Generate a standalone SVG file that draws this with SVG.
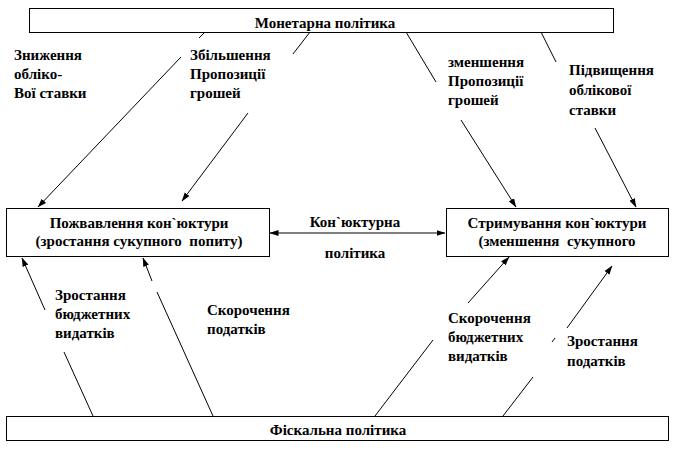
<svg xmlns="http://www.w3.org/2000/svg" width="673" height="456" viewBox="0 0 673 456">
<style>
text{font-family:"Liberation Serif","DejaVu Serif",serif;font-weight:bold;font-size:15px;fill:#000}
.c{text-anchor:middle}
.box{fill:#fff;stroke:#000;stroke-width:1}
.ln{fill:none;stroke:#000;stroke-width:1}
</style>
<defs>
<marker id="ah" markerWidth="9" markerHeight="7" refX="8.5" refY="3.5" orient="auto" markerUnits="userSpaceOnUse">
<path d="M0,0.5 L9,3.5 L0,6.5 Z" fill="#000"/>
</marker>
<marker id="as" markerWidth="9" markerHeight="7" refX="0.5" refY="3.5" orient="auto" markerUnits="userSpaceOnUse">
<path d="M9,0.5 L0,3.5 L9,6.5 Z" fill="#000"/>
</marker>
</defs>
<rect width="673" height="456" fill="#fff"/>
<g id="monetary">
<rect class="box" x="29.5" y="8.5" width="584" height="24"/>
<text class="c" x="325" y="28">Монетарна політика</text>
</g>
<g id="revival">
<rect class="box" x="6.5" y="208.5" width="263" height="48"/>
<text class="c" x="139" y="228">Пожвавлення кон`юктури</text>
<text class="c" x="139" y="246" xml:space="preserve">(зростання сукупного  попиту)</text>
</g>
<g id="restraint">
<rect class="box" x="446.5" y="208.5" width="222" height="48"/>
<text class="c" x="557" y="228">Стримування кон`юктури</text>
<text class="c" x="557" y="246" xml:space="preserve">(зменшення  сукупного</text>
</g>
<g id="fiscal">
<rect class="box" x="6.5" y="416.5" width="662" height="24"/>
<text class="c" x="338" y="435">Фіскальна політика</text>
</g>
<g id="connectors">
<path class="ln" d="M205,32 L199,38 M181,57 L38,207" marker-end="url(#ah)"/>
<path class="ln" d="M310,32 L293,54 M248,113 L182,201" marker-end="url(#ah)"/>
<path class="ln" d="M406,32 L436,82 M461,120 L516,207" marker-end="url(#ah)"/>
<path class="ln" d="M541,32 L556,62 M595,128 L636,207" marker-end="url(#ah)"/>
<path class="ln" d="M93,416 L64,352 M45,310 L22,258" marker-end="url(#ah)"/>
<path class="ln" d="M213,416 L157,292 M152,281 L143,258" marker-end="url(#ah)"/>
<path class="ln" d="M375,416 L433,340 M468,303 L509,257" marker-end="url(#ah)"/>
<path class="ln" d="M503,416 L533,377 M552,342 L555,338 M567,328 L612,266" marker-end="url(#ah)"/>
<path class="ln" d="M270,233 L445,233" marker-start="url(#as)" marker-end="url(#ah)"/>
</g>
<g id="labels">
<text x="14" y="60">Зниження</text>
<text x="14" y="79">обліко-</text>
<text x="14" y="98">Вої ставки</text>
<text x="190" y="60">Збільшення</text>
<text x="190" y="79">Пропозиції</text>
<text x="190" y="98">грошей</text>
<text x="448" y="67">зменшення</text>
<text x="448" y="86">Пропозиції</text>
<text x="448" y="105">грошей</text>
<text x="569" y="75">Підвищення</text>
<text x="569" y="95">облікової</text>
<text x="569" y="115">ставки</text>
<text class="c" x="355" y="227">Кон`юктурна</text>
<text class="c" x="355" y="258">політика</text>
<text x="55" y="300">Зростання</text>
<text x="55" y="319">бюджетних</text>
<text x="55" y="338">видатків</text>
<text x="207" y="315">Скорочення</text>
<text x="207" y="334">податків</text>
<text x="448" y="323">Скорочення</text>
<text x="448" y="342">бюджетних</text>
<text x="448" y="361">видатків</text>
<text x="567" y="346">Зростання</text>
<text x="567" y="366">податків</text>
</g>
</svg>
